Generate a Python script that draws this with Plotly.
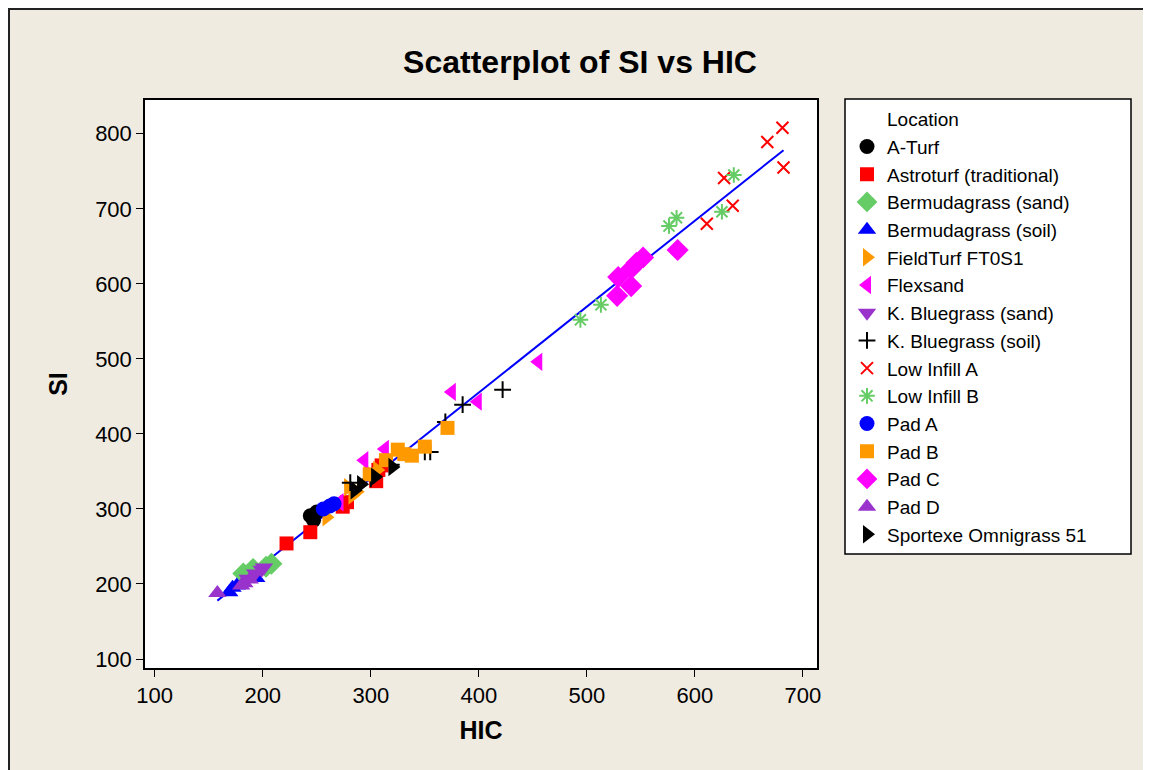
import numpy as np
import plotly.graph_objects as go

# ---------------- data ----------------
locations = [
    "A-Turf", "Astroturf (traditional)", "Bermudagrass (sand)", "Bermudagrass (soil)",
    "FieldTurf FT0S1", "Flexsand", "K. Bluegrass (sand)", "K. Bluegrass (soil)",
    "Low Infill A", "Low Infill B", "Pad A", "Pad B", "Pad C", "Pad D",
    "Sportexe Omnigrass 51",
]

hic_aturf = [244, 247, 250]
si_aturf = [291, 285, 296]

hic_astro = [222, 244, 274, 278, 305, 307, 310]
si_astro = [254, 269, 303, 309, 337, 352, 358]

hic_berm_sand = [208, 203, 191, 182]
si_berm_sand = [227, 223, 220, 214]

hic_berm_soil = [169, 172, 176, 194]
si_berm_soil = [189, 195, 198, 208]

hic_fieldturf = [259, 279, 287, 297, 306, 283]
si_fieldturf = [289, 329, 323, 349, 352, 318]

hic_flexsand = [455, 375, 399, 313, 294, 271]
si_flexsand = [496, 456, 443, 380, 365, 309]

hic_kbg_sand = [186, 193, 199, 201]
si_kbg_sand = [207, 214, 219, 222]

hic_kbg_soil = [422, 385, 369, 350, 355, 281, 319, 300]
si_kbg_soil = [459, 439, 416, 376, 376, 335, 359, 340]

hic_low_a = [681, 667, 682, 627, 635, 611]
si_low_a = [808, 789, 755, 741, 704, 680]

hic_low_b = [636, 625, 583, 576, 513, 494]
si_low_b = [745, 696, 688, 677, 572, 552]

hic_pad_a = [256, 262, 266]
si_pad_a = [300, 304, 307]

hic_pad_b = [371, 350, 325, 331, 338, 314, 299]
si_pad_b = [408, 383, 379, 373, 371, 365, 346]

hic_pad_c = [584, 552, 546, 541, 529, 541, 528]
si_pad_c = [645, 635, 628, 620, 609, 597, 584]

hic_pad_d = [158, 183, 188, 180]
si_pad_d = [188, 201, 206, 198]

hic_sportexe = [285, 291, 304, 320]
si_sportexe = [325, 333, 343, 356]

x_ticks = [100, 200, 300, 400, 500, 600, 700]
y_ticks = [100, 200, 300, 400, 500, 600, 700, 800]

# ---------------- styles ----------------
series = [
    (hic_aturf, si_aturf, "circle", "#000000", 15),
    (hic_astro, si_astro, "square", "#FF0000", 14),
    (hic_berm_sand, si_berm_sand, "diamond", "#66CC66", 17),
    (hic_berm_soil, si_berm_soil, "triangle-up", "#0000FF", 16),
    (hic_fieldturf, si_fieldturf, "triangle-right", "#FF9900", 16),
    (hic_flexsand, si_flexsand, "triangle-left", "#FF00FF", 16),
    (hic_kbg_sand, si_kbg_sand, "triangle-down", "#9933CC", 16),
    (hic_kbg_soil, si_kbg_soil, "cross-thin", "#000000", 12),
    (hic_low_a, si_low_a, "x-thin", "#FF0000", 12),
    (hic_low_b, si_low_b, "asterisk-open", "#66CC66", 13),
    (hic_pad_a, si_pad_a, "circle", "#0000FF", 15),
    (hic_pad_b, si_pad_b, "square", "#FF9900", 14),
    (hic_pad_c, si_pad_c, "diamond", "#FF00FF", 17),
    (hic_pad_d, si_pad_d, "triangle-up", "#9933CC", 16),
    (hic_sportexe, si_sportexe, "triangle-right", "#000000", 16),
]

fig = go.Figure()

# legend heading as first entry
fig.add_trace(go.Scatter(x=[None], y=[None], mode="markers", name="Location",
                         marker=dict(color="rgba(0,0,0,0)", size=1, line=dict(width=0)),
                         hoverinfo="skip"))

# regression line
all_h = np.concatenate([np.array(s[0], float) for s in series])
all_s = np.concatenate([np.array(s[1], float) for s in series])
slope, intercept = np.polyfit(all_h, all_s, 1)
line_h = np.array([all_h.min(), all_h.max()])
fig.add_trace(go.Scatter(x=line_h, y=intercept + slope * line_h, mode="lines",
                         line=dict(color="#0000FF", width=2), showlegend=False,
                         hoverinfo="skip"))

for name, (h, s, sym, col, sz) in zip(locations, series):
    thin = sym.endswith("-thin") or sym.endswith("-open")
    marker = dict(symbol=sym, size=sz, color=col)
    if thin:
        marker["line"] = dict(color=col, width=2)
    else:
        marker["line"] = dict(width=0)
    fig.add_trace(go.Scatter(x=h, y=s, mode="markers", name=name, marker=marker))

# ---------------- layout ----------------
# page has an 8px body margin; figure is sized to fill the 1151x770 window
OFF = 8
W, H = 1151 - OFF, 770 - OFF
L, R, T, B = 145 - OFF, (1151 - 817), 100 - OFF, 770 - 668
pw, ph = W - L - R, H - T - B


def xf(px):  # page pixel -> paper fraction
    return (px - OFF - L) / pw


def yf(py):
    return (H - B - (py - OFF)) / ph


bg = "#EFEBE1"
shapes = [
    # dark frame on the top and left edges of the graph window
    dict(type="path", xref="paper", yref="paper",
         path=f"M {xf(OFF + 1)},{yf(800)} L {xf(OFF + 1)},{yf(OFF + 1)} L {xf(1200)},{yf(OFF + 1)}",
         line=dict(color="#222222", width=2), layer="above"),
    # legend box
    dict(type="rect", xref="paper", yref="paper", x0=xf(845), x1=xf(1131),
         y0=yf(554), y1=yf(99), fillcolor="white",
         line=dict(color="#000000", width=1.5), layer="above"),
]

font_main = "Liberation Sans, Arial, sans-serif"

fig.update_layout(
    width=W, height=H,
    margin=dict(l=L, r=R, t=T, b=B, pad=0),
    paper_bgcolor=bg, plot_bgcolor="white",
    title=dict(text="<b>Scatterplot of SI vs HIC</b>", x=(580 - OFF) / W, xanchor="center",
               y=1 - (62 - OFF) / H, yanchor="middle",
               font=dict(family=font_main, size=32, color="black")),
    shapes=shapes,
    showlegend=True,
    legend=dict(x=xf(847), y=1.0, xanchor="left", yanchor="top",
                bgcolor="rgba(0,0,0,0)", borderwidth=0,
                font=dict(family=font_main, size=19, color="black"),
                traceorder="normal", itemsizing="trace"),
    font=dict(family=font_main, color="black"),
)

fig.update_xaxes(
    range=[91, 713], tickvals=x_ticks, ticktext=[str(v) for v in x_ticks],
    showgrid=False, zeroline=False, showline=True, linecolor="black", linewidth=1.5,
    mirror=True, ticks="outside", ticklen=7, tickwidth=1.2, tickcolor="black",
    tickfont=dict(family=font_main, size=22, color="black"),
    title=dict(text="<b>HIC</b>", font=dict(family=font_main, size=25, color="black"),
               standoff=14),
)
fig.update_yaxes(
    range=[88, 845], tickvals=y_ticks, ticktext=[str(v) for v in y_ticks],
    showgrid=False, zeroline=False, showline=True, linecolor="black", linewidth=1.5,
    mirror=True, ticks="outside", ticklen=7, tickwidth=1.2, tickcolor="black",
    tickfont=dict(family=font_main, size=22, color="black"),
    title=dict(text="<b>SI</b>", font=dict(family=font_main, size=25, color="black"),
               standoff=20),
)

fig.write_html("out.html")
